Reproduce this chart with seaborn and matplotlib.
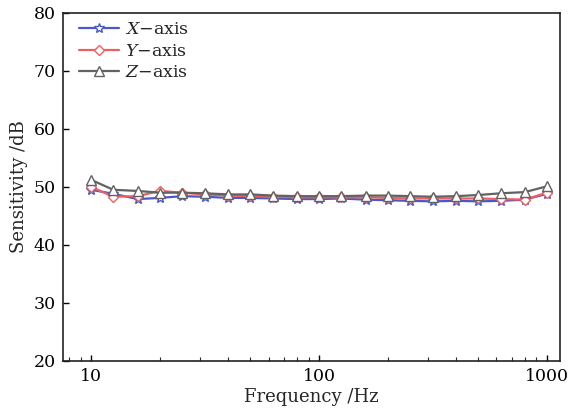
import numpy as np
import pandas as pd
import matplotlib
matplotlib.use("Agg")
import matplotlib.pyplot as plt
import seaborn as sns

freq = [10, 12.5, 16, 20, 25, 31.5, 40, 50, 63, 80, 100, 125, 160, 200, 250, 315, 400, 500, 630, 800, 1000]
x_axis = [49.5, 48.8, 47.9, 48.1, 48.4, 48.3, 48.1, 48.1, 48.0, 47.9, 47.9, 48.0, 47.8, 47.7, 47.6, 47.5, 47.6, 47.5, 47.6, 47.8, 48.8]
y_axis = [50.0, 48.3, 48.4, 49.3, 49.0, 48.7, 48.5, 48.4, 48.3, 48.2, 48.2, 48.2, 48.2, 48.1, 48.0, 48.0, 48.0, 48.0, 47.9, 47.8, 49.0]
z_axis = [51.2, 49.5, 49.3, 49.0, 49.0, 48.9, 48.7, 48.7, 48.5, 48.4, 48.4, 48.4, 48.5, 48.5, 48.4, 48.3, 48.4, 48.6, 48.9, 49.1, 50.1]
labels = ["$X$\u2212axis", "$Y$\u2212axis", "$Z$\u2212axis"]

sns.set_style("ticks")
plt.rcParams['font.family'] = ['DejaVu Serif']
plt.rcParams['mathtext.fontset'] = 'dejavuserif'

df = pd.DataFrame({
    "freq": freq * 3,
    "val": x_axis + y_axis + z_axis,
    "series": [labels[0]] * len(freq) + [labels[1]] * len(freq) + [labels[2]] * len(freq),
})

fig = plt.figure(figsize=(5.76, 4.13), dpi=100)
ax = fig.add_axes([0.109, 0.126, 0.863, 0.843])

colors = ["#4a58c8", "#ee5f5f", "#626262"]
markers = ["*", "D", "^"]
msizes = [7, 5.5, 7]
for lab, c, m, ms in zip(labels, colors, markers, msizes):
    sub = df[df["series"] == lab]
    sns.lineplot(data=sub, x="freq", y="val", ax=ax, color=c, marker=m,
                 markersize=ms, markerfacecolor="white", markeredgecolor=c,
                 markeredgewidth=1.0, linewidth=1.6, label=lab)

ax.set_xscale("log")
ax.set_xlim(7.5, 1140)
ax.set_ylim(20, 80)
ax.set_yticks([20, 30, 40, 50, 60, 70, 80])
ax.set_xticks([10, 100, 1000])
ax.set_xticklabels(["10", "100", "1000"])
ax.tick_params(axis="both", labelsize=12.5, direction="in", length=4, width=1, colors="black", pad=5)
ax.tick_params(axis="x", which="minor", direction="in", length=3, width=0.8)
for s in ax.spines.values():
    s.set_color("#222222")
    s.set_linewidth(1.2)
ax.set_xlabel("Frequency /Hz", fontsize=13, labelpad=2)
ax.set_ylabel("Sensitivity /dB", fontsize=13, labelpad=4)
leg = ax.legend(loc="upper left", frameon=False, fontsize=12.5, handlelength=2.3,
                borderaxespad=0.1, labelspacing=0.25, handletextpad=0.35,
                bbox_to_anchor=(0.015, 1.0))
fig.savefig("out.png", dpi=100)
